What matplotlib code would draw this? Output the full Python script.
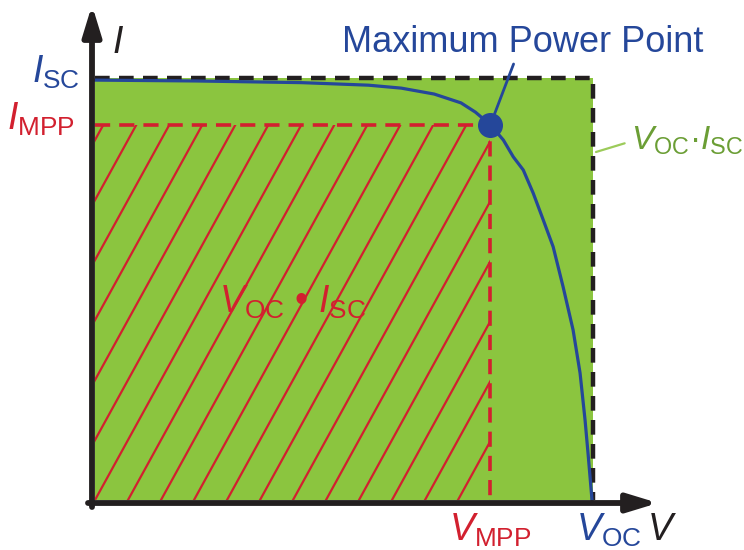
import matplotlib.pyplot as plt
from matplotlib.patches import Rectangle

plt.rcParams['font.family'] = ['Liberation Sans', 'DejaVu Sans']
plt.rcParams['mathtext.fontset'] = 'custom'
plt.rcParams['mathtext.rm'] = 'Liberation Sans'
plt.rcParams['mathtext.it'] = 'Liberation Sans:italic'

# normalised I-V curve of a solar cell
V_OC = 1.0
I_SC = 1.0
V_MPP = 0.794
I_MPP = 0.889
v_curve = [0.0, 0.20, 0.415, 0.549, 0.615, 0.681, 0.735, 0.764, 0.794, 0.820, 0.840,
           0.860, 0.880, 0.900, 0.920, 0.940, 0.960, 0.974, 0.984, 0.990, 0.998]
i_curve = [0.995, 0.993, 0.989, 0.983, 0.976, 0.962, 0.941, 0.919, 0.889, 0.853, 0.813,
           0.782, 0.727, 0.664, 0.600, 0.505, 0.403, 0.301, 0.190, 0.111, 0.0]

GREEN = '#8BC53F'
GREEN_TXT = '#6B9E35'
BLUE = '#25479A'
RED = '#D2202F'
BLACK = '#231F20'

fig = plt.figure(figsize=(7.44, 5.5), dpi=100)
ax = fig.add_axes([0, 0, 1, 1])
ax.axis('off')

# pixel layout: origin at (95, 500), V_OC -> 498 px, I_SC -> 422 px
x0_px, y0_px = 95, 500
sx = 498 / V_OC
sy = 422 / I_SC
ax.set_xlim(-x0_px / sx, (744 - x0_px) / sx)
ax.set_ylim(-(550 - y0_px) / sy, y0_px / sy)

# green area V_OC * I_SC
ax.add_patch(Rectangle((0, 0), V_OC, I_SC, fc=GREEN, ec='none', zorder=1))

# red hatch in V_MPP * I_MPP
clip = Rectangle((0, 0), V_MPP, I_MPP, fill=False, ec='none')
ax.add_patch(clip)
slope = 0.55 * sy / sx
step = 33 / sx
for k in range(-20, 30):
    xb = k * step
    ln, = ax.plot([xb, xb + slope * I_MPP], [0, I_MPP], color=RED, lw=1.6, zorder=2)
    ln.set_clip_path(clip)

ax.plot([0, V_MPP, V_MPP], [I_MPP, I_MPP, 0], color=RED, lw=2.6, dashes=(4.2, 2.5), zorder=3)
ax.plot([0, V_OC, V_OC], [I_SC, I_SC, 0], color=BLACK, lw=3.2, dashes=(3.3, 2.1), zorder=3)

# I-V curve and MPP
ax.plot(v_curve, i_curve, color=BLUE, lw=2.3, zorder=4)
ax.plot(V_MPP, I_MPP, 'o', ms=17, color=BLUE, zorder=6)

# axes with arrows
arr = dict(arrowstyle='-|>,head_length=1.8,head_width=0.55', lw=4.2, color=BLACK,
           shrinkA=0, shrinkB=0, mutation_scale=10)
ax.annotate('', xy=(563 / sx, -3 / sy), xytext=(-7 / sx, -3 / sy), arrowprops=arr, zorder=7)
ax.annotate('', xy=(-3 / sx, 495 / sy), xytext=(-3 / sx, -7 / sy), arrowprops=arr, zorder=7)

fs = 27
ax.annotate(r'$I_\mathrm{SC}$', xy=(0, I_SC), xytext=(-10.8, -3.6), textcoords='offset points',
            ha='right', va='baseline', color=BLUE, fontsize=fs)
ax.annotate(r'$I_\mathrm{MPP}$', xy=(0, I_MPP), xytext=(-14.4, -3.6), textcoords='offset points',
            ha='right', va='baseline', color=RED, fontsize=fs)
ax.annotate(r'$V_\mathrm{MPP}$', xy=(V_MPP, 0), xytext=(0, -29), textcoords='offset points',
            ha='center', va='baseline', color=RED, fontsize=fs)
ax.annotate(r'$V_\mathrm{OC}$', xy=(V_OC, 0), xytext=(11.5, -29), textcoords='offset points',
            ha='center', va='baseline', color=BLUE, fontsize=fs)
ax.annotate(r'$V$', xy=(V_OC, 0), xytext=(50, -29), textcoords='offset points',
            ha='center', va='baseline', color=BLACK, fontsize=fs)
ax.annotate(r'$I$', xy=(0, I_SC), xytext=(16.5, 18), textcoords='offset points',
            ha='center', va='baseline', color=BLACK, fontsize=fs)

ax.annotate('Maximum Power Point', xy=(V_MPP, I_MPP), xytext=(23, 52.5), textcoords='offset points',
            ha='center', va='baseline', color=BLUE, fontsize=26,
            arrowprops=dict(arrowstyle='-', color=BLUE, lw=2, relpos=(0.48, 0), shrinkA=1, shrinkB=0))

ax.text(V_MPP / 2, I_MPP / 2, r'$V_\mathrm{OC}$ • $I_\mathrm{SC}$', ha='center', va='baseline',
        color=RED, fontsize=fs, zorder=5)

ax.annotate(r'$V_\mathrm{OC}$·$I_\mathrm{SC}$', xy=(V_OC + 3 / sx, 348 / sy), xytext=(25.5, 1.4),
            textcoords='offset points', ha='left', va='baseline', color=GREEN_TXT, fontsize=24,
            arrowprops=dict(arrowstyle='-', color='#9CCB5A', lw=1.6, relpos=(0, 0.5), shrinkA=3, shrinkB=0))

fig.savefig('out.png', dpi=100)
